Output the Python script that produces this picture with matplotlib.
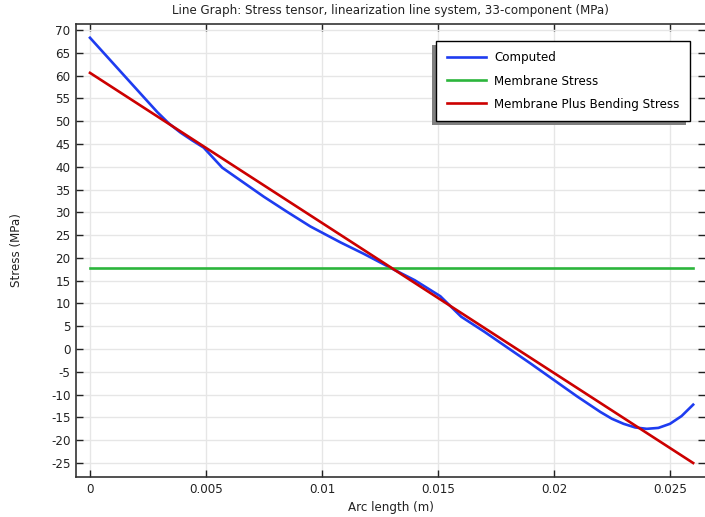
import numpy as np
import matplotlib.pyplot as plt
from matplotlib.patches import Rectangle

plt.rcParams.update({
    'font.family': 'DejaVu Sans',
    'font.size': 8.6,
    'axes.unicode_minus': False,
})

# Computed stress along the cut line
arc_computed = [0, 0.0008, 0.0016, 0.0024, 0.0029, 0.0034, 0.0039, 0.0044, 0.0049,
                0.0057, 0.0066, 0.0075, 0.0085, 0.0095, 0.0108, 0.0118, 0.013, 0.014,
                0.0151, 0.016, 0.017, 0.018, 0.019, 0.020, 0.021, 0.022, 0.0225,
                0.023, 0.0235, 0.024, 0.0245, 0.025, 0.0255, 0.026]
stress_computed = [68.3, 63.8, 59.3, 54.8, 52.0, 49.5, 47.5, 45.8, 44.2,
                   39.8, 36.6, 33.4, 30.1, 26.9, 23.4, 20.9, 17.7, 15.1,
                   11.6, 7.1, 3.8, 0.3, -3.2, -6.8, -10.4, -13.8, -15.3,
                   -16.4, -17.2, -17.5, -17.3, -16.4, -14.7, -12.2]

# Linearized components
arc_linear = [0, 0.026]
membrane = [17.8, 17.8]
membrane_bending = [60.6, -25.0]

x_ticks = [0, 0.005, 0.01, 0.015, 0.02, 0.025]
x_ticklabels = ['0', '0.005', '0.01', '0.015', '0.02', '0.025']
y_ticks = list(range(-25, 71, 5))

fig = plt.figure(figsize=(7.05, 5.17), dpi=100)
ax = fig.add_axes([76 / 705, 40 / 517, 629 / 705, 453 / 517])

ax.plot(arc_computed, stress_computed, color='#1e3cf0', lw=1.9, label='Computed', zorder=3)
ax.plot(arc_linear, membrane, color='#2cb53c', lw=1.9, label='Membrane Stress', zorder=3)
ax.plot(arc_linear, membrane_bending, color='#cc0000', lw=1.9,
        label='Membrane Plus Bending Stress', zorder=3)

ax.set_xlim(-0.000603, 0.02651)
ax.set_ylim(-28.07, 71.32)
ax.set_xticks(x_ticks)
ax.set_xticklabels(x_ticklabels)
ax.set_yticks(y_ticks)
ax.grid(True, color='#e6e6e6', lw=1.0)
ax.set_axisbelow(True)
ax.tick_params(direction='in', length=5, width=1, top=True, right=True,
               colors='#222222', labelcolor='#222222', pad=4)
for side in ['left', 'bottom', 'top']:
    ax.spines[side].set_linewidth(1.2)
    ax.spines[side].set_color('#333333')
ax.spines['right'].set_visible(False)

ax.set_title('Line Graph: Stress tensor, linearization line system, 33-component (MPa)',
             fontsize=8.6, color='#222222', pad=7)
ax.set_xlabel('Arc length (m)', color='#222222', labelpad=4)
ax.set_ylabel('Stress (MPa)', color='#222222', labelpad=20)

leg = ax.legend(loc='upper right', bbox_to_anchor=(0.976, 0.962), frameon=True,
                fancybox=False, framealpha=1, edgecolor='black', fontsize=8.6,
                handlelength=3.3, handletextpad=0.7, labelspacing=0.85,
                borderpad=0.85, borderaxespad=0)
leg.get_frame().set_linewidth(1.0)
leg.set_zorder(6)

# gray drop shadow offset to the lower left of the legend box
fig.canvas.draw()
bb = leg.get_window_extent().transformed(fig.transFigure.inverted())
shadow = Rectangle((bb.x0 - 4 / 705, bb.y0 - 4 / 517), bb.width, bb.height,
                   transform=fig.transFigure, facecolor='#808080', edgecolor='none',
                   zorder=5)
ax.add_artist(shadow)

fig.savefig('out.png', dpi=100)
